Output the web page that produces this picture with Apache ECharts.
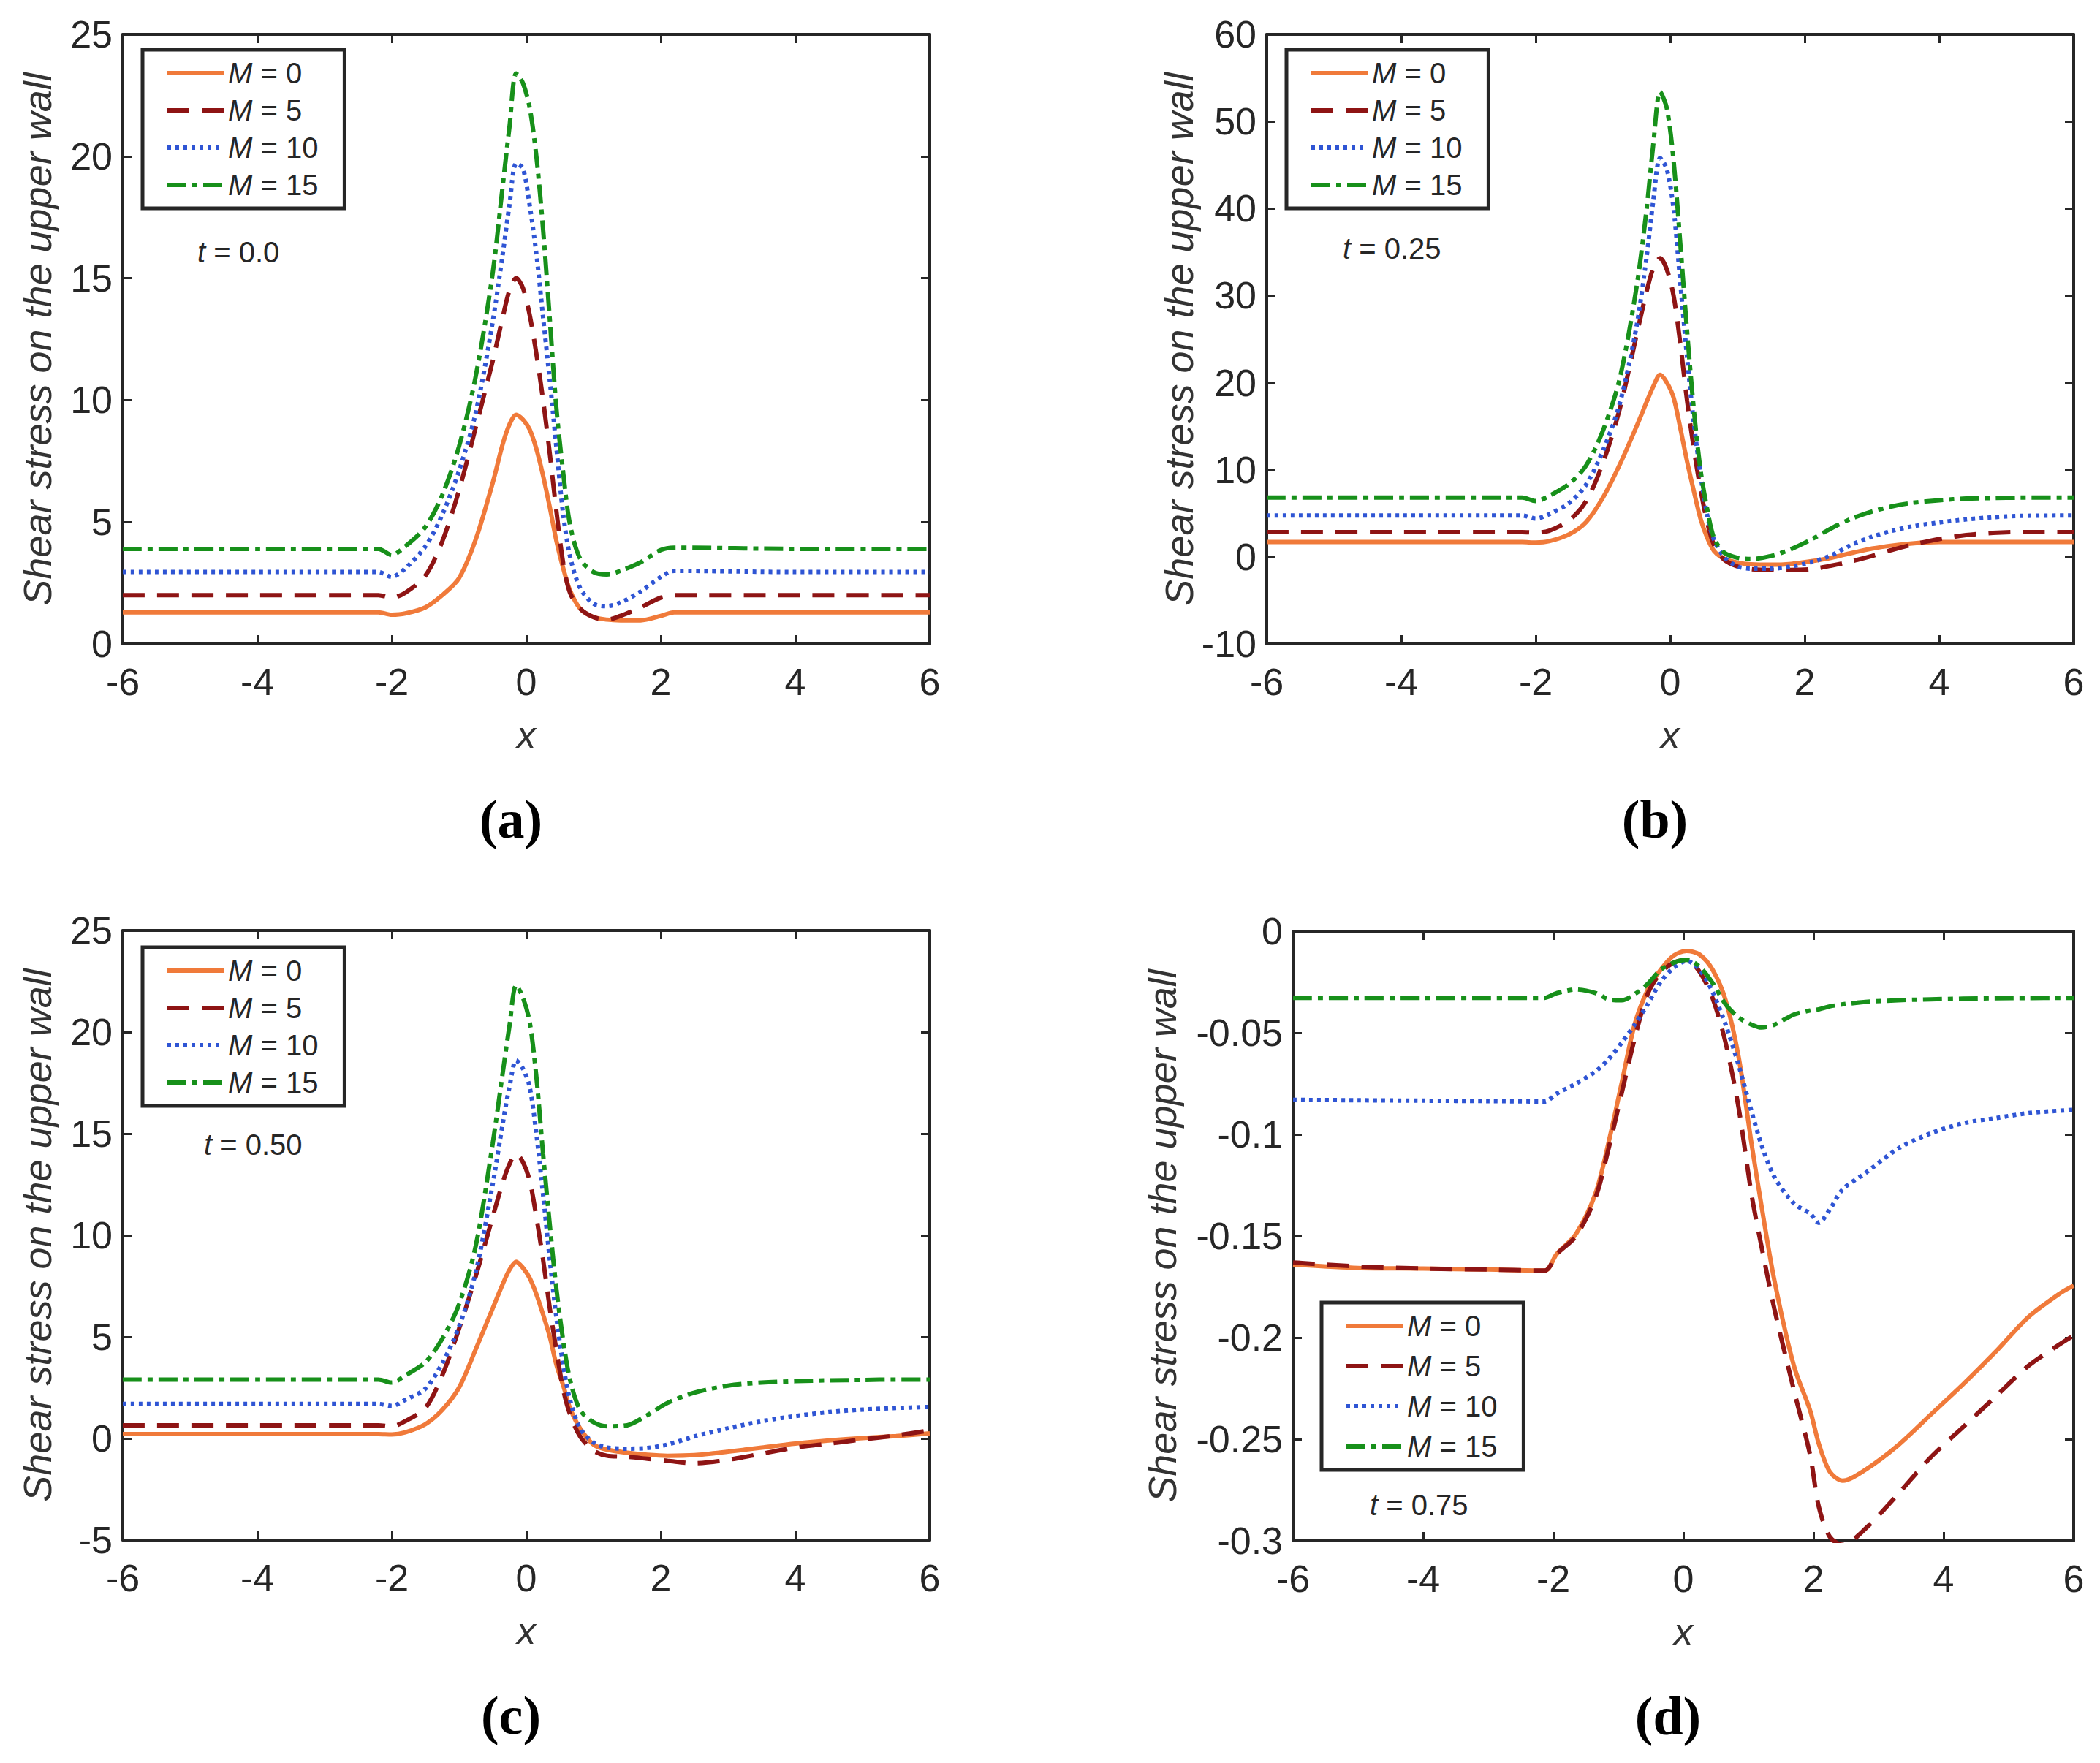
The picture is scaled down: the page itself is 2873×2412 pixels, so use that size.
<!DOCTYPE html>
<html>
<head>
<meta charset="utf-8">
<title>Shear stress on the upper wall</title>
<script src="https://cdn.jsdelivr.net/npm/echarts@6/dist/echarts.min.js"></script>
<style>
  html, body { margin: 0; padding: 0; background: #fff; }
  #chart { width: 2873px; height: 2412px; }
</style>
</head>
<body>
<div id="chart"></div>
<script>
// series names
const names = ['M = 0', 'M = 5', 'M = 10', 'M = 15']

// (a) t = 0.0
const aX = [-6, -4, -2.2, -2, -1.8, -1.5, -1.25, -1.0, -0.75, -0.5, -0.35, -0.25, -0.15, -0.05, 0.05, 0.15, 0.25, 0.35, 0.45, 0.55, 0.65, 0.8, 1.0, 1.2, 1.4, 1.7, 2.0, 2.2, 4, 6]
const aM0 = [1.3, 1.3, 1.3, 1.2, 1.25, 1.5, 2.0, 2.7, 4.3, 6.6, 8.2, 9.0, 9.4, 9.2, 8.8, 8.0, 6.9, 5.6, 4.2, 3.1, 2.2, 1.45, 1.1, 1.0, 0.97, 0.97, 1.15, 1.3, 1.3, 1.3]
const aM5 = [2.0, 2.0, 2.0, 1.9, 2.1, 2.8, 4.2, 6.3, 8.9, 11.6, 13.4, 14.5, 15.0, 14.6, 13.5, 11.9, 10.0, 7.8, 5.4, 3.3, 2.1, 1.45, 1.1, 1.0, 1.15, 1.5, 1.9, 2.0, 2.0, 2.0]
const aM10 = [2.95, 2.95, 2.95, 2.75, 3.1, 4.0, 5.3, 7.1, 9.5, 13.2, 16.0, 18.0, 19.7, 19.5, 18.0, 16.0, 13.4, 10.8, 8.0, 5.3, 3.6, 2.3, 1.65, 1.55, 1.7, 2.15, 2.75, 3.0, 2.95, 2.95]
const aM15 = [3.9, 3.9, 3.9, 3.65, 4.0, 4.8, 6.1, 8.1, 11.0, 15.2, 18.8, 21.2, 23.4, 23.0, 22.0, 20.0, 17.0, 13.3, 9.6, 7.0, 4.9, 3.5, 2.95, 2.85, 3.0, 3.35, 3.85, 3.95, 3.9, 3.9]

// (b) t = 0.25
const bX = [-6, -4, -2.2, -2, -1.8, -1.5, -1.25, -1.0, -0.75, -0.5, -0.35, -0.25, -0.15, -0.05, 0.05, 0.15, 0.25, 0.35, 0.45, 0.55, 0.65, 0.8, 1.0, 1.2, 1.5, 1.8, 2.1, 2.4, 2.7, 3.0, 3.3, 3.6, 4.0, 4.4, 4.8, 5.2, 6]
const bM0 = [1.7, 1.7, 1.7, 1.65, 1.8, 2.6, 4.0, 6.8, 10.6, 15.0, 17.8, 19.6, 20.9, 20.0, 18.3, 14.8, 11.0, 7.6, 4.4, 2.2, 0.7, -0.2, -0.65, -0.85, -0.9, -0.8, -0.5, -0.1, 0.45, 0.95, 1.3, 1.55, 1.7, 1.7, 1.7, 1.7, 1.7]
const bM5 = [2.85, 2.85, 2.85, 2.8, 3.0, 4.2, 6.4, 10.8, 17.0, 25.5, 30.5, 33.2, 34.3, 33.0, 30.0, 24.5, 18.0, 12.5, 7.8, 4.0, 1.4, -0.3, -1.1, -1.4, -1.5, -1.5, -1.4, -1.0, -0.5, 0.1, 0.8, 1.4, 2.05, 2.5, 2.75, 2.85, 2.85]
const bM10 = [4.75, 4.75, 4.75, 4.4, 4.9, 6.2, 8.3, 12.2, 17.6, 26.5, 34.5, 41.0, 45.8, 44.5, 40.0, 31.5, 23.0, 15.5, 9.5, 4.8, 2.0, 0.0, -1.1, -1.35, -1.35, -1.1, -0.6, 0.2, 1.4, 2.3, 3.0, 3.5, 3.95, 4.3, 4.55, 4.7, 4.75]
const bM15 = [6.8, 6.8, 6.8, 6.4, 7.0, 8.4, 10.5, 14.5, 20.5, 31.0, 40.0, 47.5, 53.4, 51.5, 45.5, 36.0, 26.0, 17.0, 10.0, 5.5, 2.2, 0.5, -0.1, -0.25, 0.1, 0.9, 2.0, 3.3, 4.4, 5.2, 5.8, 6.2, 6.5, 6.7, 6.75, 6.8, 6.8]

// (c) t = 0.50
const cX = [-6, -4, -2.2, -2, -1.8, -1.5, -1.25, -1.0, -0.75, -0.5, -0.35, -0.25, -0.15, -0.05, 0.05, 0.15, 0.25, 0.35, 0.45, 0.55, 0.65, 0.8, 1.0, 1.2, 1.5, 1.8, 2.1, 2.5, 3.0, 3.5, 4.0, 4.5, 5.0, 5.5, 6]
const cM0 = [0.22, 0.22, 0.22, 0.2, 0.3, 0.7, 1.4, 2.5, 4.4, 6.4, 7.6, 8.3, 8.7, 8.4, 7.9, 7.1, 6.1, 5.0, 3.6, 2.6, 1.5, 0.5, -0.3, -0.55, -0.7, -0.8, -0.85, -0.82, -0.65, -0.45, -0.25, -0.1, 0.02, 0.12, 0.25]
const cM5 = [0.65, 0.65, 0.65, 0.6, 0.85, 1.5, 3.1, 5.4, 8.0, 10.9, 12.6, 13.5, 14.0, 13.6, 12.7, 10.9, 8.8, 6.4, 4.3, 2.4, 1.2, 0.1, -0.6, -0.85, -0.9, -1.0, -1.1, -1.22, -1.05, -0.75, -0.45, -0.25, -0.05, 0.15, 0.4]
const cM10 = [1.7, 1.7, 1.7, 1.6, 1.9, 2.45, 3.7, 5.5, 8.2, 12.5, 15.5, 17.3, 18.6, 18.2, 17.3, 15.0, 12.0, 8.8, 5.9, 3.6, 1.9, 0.5, -0.2, -0.45, -0.5, -0.47, -0.3, 0.1, 0.5, 0.85, 1.1, 1.3, 1.42, 1.5, 1.55]
const cM15 = [2.9, 2.9, 2.9, 2.75, 3.1, 3.75, 4.9, 6.6, 9.5, 14.5, 18.0, 20.3, 22.3, 21.7, 20.5, 17.8, 14.0, 10.5, 7.3, 4.8, 2.9, 1.4, 0.8, 0.6, 0.65, 1.15, 1.75, 2.25, 2.6, 2.75, 2.82, 2.86, 2.88, 2.9, 2.9]

// (d) t = 0.75
const dX = [-6, -5, -4, -3, -2.13, -1.95, -1.65, -1.35, -1.15, -0.95, -0.75, -0.55, -0.35, -0.15, 0.05, 0.25, 0.45, 0.65, 0.85, 1.05, 1.2, 1.4, 1.7, 1.95, 2.08, 2.25, 2.45, 2.8, 3.3, 3.8, 4.3, 4.8, 5.3, 5.8, 6]
const dM0 = [-0.164, -0.1657, -0.166, -0.1665, -0.167, -0.159, -0.149, -0.129, -0.104, -0.075, -0.046, -0.029, -0.019, -0.012, -0.0097, -0.0115, -0.019, -0.034, -0.062, -0.105, -0.135, -0.172, -0.214, -0.236, -0.252, -0.266, -0.2704, -0.265, -0.253, -0.238, -0.223, -0.207, -0.19, -0.178, -0.1744]
const dM5 = [-0.163, -0.165, -0.166, -0.1665, -0.167, -0.159, -0.15, -0.131, -0.107, -0.08, -0.053, -0.031, -0.0205, -0.0155, -0.0142, -0.02, -0.033, -0.055, -0.087, -0.13, -0.155, -0.186, -0.226, -0.258, -0.283, -0.298, -0.302, -0.294, -0.277, -0.259, -0.244, -0.229, -0.214, -0.203, -0.199]
const dM10 = [-0.083, -0.0832, -0.0834, -0.0836, -0.0838, -0.08, -0.075, -0.069, -0.063, -0.055, -0.046, -0.036, -0.025, -0.018, -0.0146, -0.019, -0.03, -0.046, -0.066, -0.089, -0.105, -0.121, -0.134, -0.139, -0.1435, -0.137, -0.127, -0.119, -0.107, -0.0995, -0.0945, -0.092, -0.0895, -0.0883, -0.0879]
const dM15 = [-0.0328, -0.0328, -0.0328, -0.0328, -0.0328, -0.0305, -0.0287, -0.0304, -0.0335, -0.034, -0.031, -0.026, -0.019, -0.0155, -0.0141, -0.0175, -0.0255, -0.036, -0.0425, -0.046, -0.0474, -0.046, -0.041, -0.039, -0.0385, -0.037, -0.036, -0.0348, -0.034, -0.0335, -0.0332, -0.033, -0.0329, -0.0328, -0.0328]

// axis ranges and annotations per panel
const yMins = [0, -10, -5, -0.3]
const yMaxs = [25, 60, 25, 0]
const ySteps = [5, 10, 5, 0.05]
const timeLabels = ['0.0', '0.25', '0.50', '0.75']
const panelLabels = ['(a)', '(b)', '(c)', '(d)']

const panels = [
  { x: aX, ys: [aM0, aM5, aM10, aM15] },
  { x: bX, ys: [bM0, bM5, bM10, bM15] },
  { x: cX, ys: [cM0, cM5, cM10, cM15] },
  { x: dX, ys: [dM0, dM5, dM10, dM15] }
]

// layout (px)
const grids = [
  { left: 168, top: 47, width: 1104, height: 834 },
  { left: 1733, top: 47, width: 1104, height: 834 },
  { left: 168, top: 1273, width: 1104, height: 834 },
  { left: 1769, top: 1274, width: 1068, height: 834 }
]
const legendPos = [
  { left: 195, top: 68, gap: 7 },
  { left: 1760, top: 68, gap: 7 },
  { left: 195, top: 1296, gap: 7 },
  { left: 1808, top: 1782, gap: 11 }
]
const tPos = [[270, 345], [1837, 340], [279, 1566], [1874, 2059]]
const yNameGap = [90, 90, 90, 152]

const lineStyles = [
  { color: '#F07A3A', type: 'solid' },
  { color: '#8E1414', type: [30, 17] },
  { color: '#2F55D4', type: [5, 6] },
  { color: '#17901A', type: [26, 8, 7, 8] }
]

const FONT = '"Liberation Sans", Arial, Helvetica, sans-serif'
const INK = '#262626'

const chart = echarts.init(document.getElementById('chart'), null, { renderer: 'svg' })

const xAxes = []
const yAxes = []
const series = []
const legends = []
const graphics = []

panels.forEach((p, g) => {
  const axisLine = { show: true, onZero: false, lineStyle: { color: INK, width: 4 } }
  const tick = { show: true, inside: true, length: 12, lineStyle: { color: INK, width: 3 } }
  xAxes.push({
    type: 'value', gridIndex: g, position: 'bottom', min: -6, max: 6, interval: 2,
    axisLine, axisTick: tick, splitLine: { show: false },
    axisLabel: { fontSize: 52, fontFamily: FONT, color: INK, margin: 26 },
    name: 'x', nameLocation: 'middle', nameGap: 98,
    nameTextStyle: { fontSize: 52, fontStyle: 'italic', fontFamily: FONT, color: '#333' }
  })
  xAxes.push({
    type: 'value', gridIndex: g, position: 'top', min: -6, max: 6, interval: 2,
    axisLine, axisTick: tick, splitLine: { show: false }, axisLabel: { show: false }
  })
  yAxes.push({
    type: 'value', gridIndex: g, position: 'left', min: yMins[g], max: yMaxs[g], interval: ySteps[g],
    axisLine, axisTick: tick, splitLine: { show: false },
    axisLabel: { fontSize: 52, fontFamily: FONT, color: INK, margin: 14 },
    name: 'Shear stress on the upper wall', nameLocation: 'middle', nameGap: yNameGap[g],
    nameTextStyle: { fontSize: 54, fontStyle: 'italic', fontFamily: FONT, color: '#333' }
  })
  yAxes.push({
    type: 'value', gridIndex: g, position: 'right', min: yMins[g], max: yMaxs[g], interval: ySteps[g],
    axisLine, axisTick: tick, splitLine: { show: false }, axisLabel: { show: false }
  })

  p.ys.forEach((ys, k) => {
    series.push({
      type: 'line', name: names[k], xAxisIndex: g * 2, yAxisIndex: g * 2,
      data: p.x.map((x, i) => [x, ys[i]]),
      smooth: 0.3, symbol: 'circle', showSymbol: false, clip: true,
      lineStyle: { color: lineStyles[k].color, type: lineStyles[k].type, width: 6, cap: 'butt' },
      itemStyle: { color: lineStyles[k].color }
    })
  })

  legends.push({
    data: names, orient: 'vertical', left: legendPos[g].left, top: legendPos[g].top,
    padding: [10, 36, 10, 31], itemWidth: 78, itemHeight: 14, itemGap: legendPos[g].gap, itemTextGap: 8,
    backgroundColor: '#fff', borderColor: INK, borderWidth: 5, borderRadius: 0,
    selectedMode: false,
    itemStyle: { color: 'transparent', borderColor: 'transparent', borderWidth: 0, opacity: 0 },
    lineStyle: { width: 6 },
    formatter: n => '{i|M}' + n.slice(1),
    textStyle: {
      fontSize: 40, fontFamily: FONT, color: INK, lineHeight: 44,
      rich: { i: { fontSize: 40, fontFamily: FONT, fontStyle: 'italic', color: INK, lineHeight: 44 } }
    }
  })

  graphics.push({
    type: 'text', x: tPos[g][0], y: tPos[g][1],
    style: {
      text: '{i|t} = ' + timeLabels[g], fill: INK, fontSize: 40, fontFamily: FONT,
      verticalAlign: 'middle', align: 'left',
      rich: { i: { fontStyle: 'italic', fontSize: 40, fontFamily: FONT, fill: INK } }
    }
  })
  graphics.push({
    type: 'text', x: grids[g].left + grids[g].width / 2 - 21, y: grids[g].top + 1074,
    style: {
      text: panelLabels[g], fill: '#000', fontSize: 74, fontWeight: 'bold',
      fontFamily: '"Liberation Serif", "Times New Roman", serif',
      align: 'center', verticalAlign: 'middle'
    }
  })
})

chart.setOption({
  animation: false,
  backgroundColor: '#fff',
  grid: grids,
  xAxis: xAxes,
  yAxis: yAxes,
  legend: legends,
  series: series,
  graphic: graphics
})
</script>
</body>
</html>
